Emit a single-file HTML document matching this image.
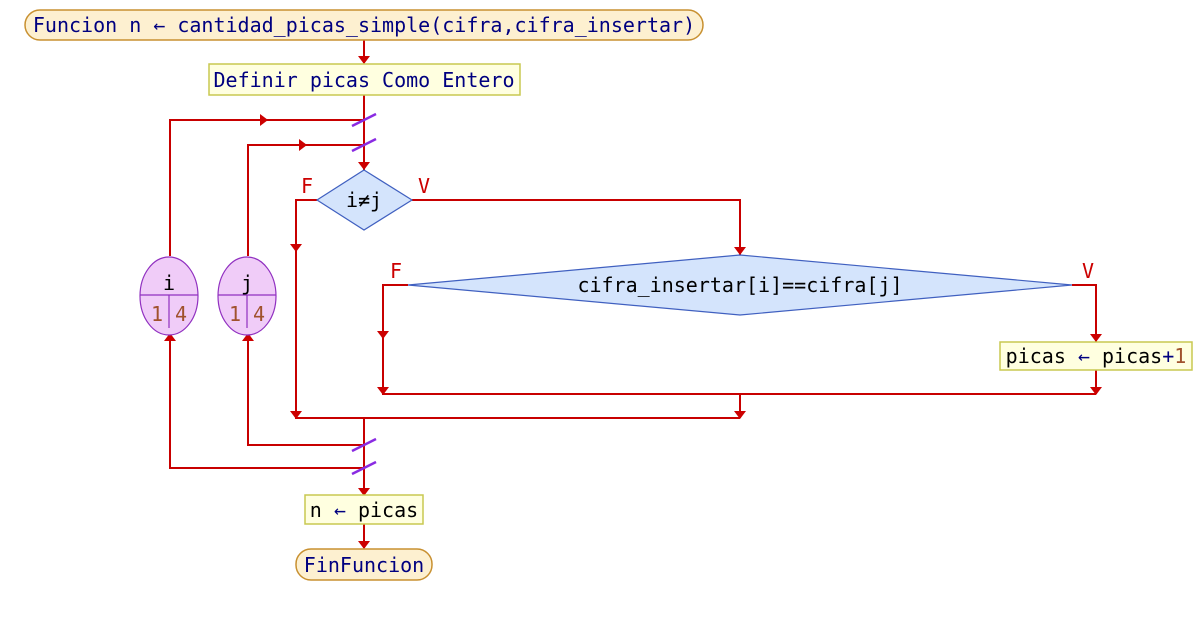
<!DOCTYPE html>
<html><head><meta charset="utf-8"><style>
html,body{margin:0;padding:0;background:#fff;}
text{font-family:"DejaVu Sans Mono","Liberation Mono",monospace;font-size:20px;}
</style></head><body>
<svg width="1202" height="615" viewBox="0 0 1202 615" xmlns="http://www.w3.org/2000/svg">
<g stroke="#c80000" stroke-width="2" fill="none">
<line x1="364" y1="40" x2="364" y2="63"/>
<line x1="364" y1="95" x2="364" y2="170"/>
<polyline points="170,256 170,120 364,120"/>
<polyline points="248,256 248,145 364,145"/>
<polyline points="317,200 296,200 296,418 740,418"/>
<polyline points="412,200 740,200 740,255"/>
<polyline points="408,285 383,285 383,394 1096,394"/>
<polyline points="1072,285 1096,285 1096,342"/>
<line x1="1096" y1="370" x2="1096" y2="394"/>
<line x1="740" y1="394" x2="740" y2="418"/>
<line x1="364" y1="418" x2="364" y2="495"/>
<polyline points="364,445 248,445 248,336"/>
<polyline points="364,468 170,468 170,336"/>
<line x1="364" y1="524" x2="364" y2="548"/>
</g>
<g fill="#c00">
<path d="M358,56 L370,56 L364,64 Z"/>
<path d="M358,162 L370,162 L364,170 Z"/>
<path d="M734,247 L746,247 L740,255 Z"/>
<path d="M1090,334 L1102,334 L1096,342 Z"/>
<path d="M1090,387 L1102,387 L1096,395 Z"/>
<path d="M290,244 L302,244 L296,252 Z"/>
<path d="M290,411 L302,411 L296,419 Z"/>
<path d="M377,331 L389,331 L383,339 Z"/>
<path d="M377,387 L389,387 L383,395 Z"/>
<path d="M734,411 L746,411 L740,419 Z"/>
<path d="M358,488 L370,488 L364,496 Z"/>
<path d="M358,541 L370,541 L364,549 Z"/>
<path d="M260,114 L268,120 L260,126 Z"/>
<path d="M299,139 L307,145 L299,151 Z"/>
<path d="M164,341 L176,341 L170,333 Z"/>
<path d="M242,341 L254,341 L248,333 Z"/>
</g>
<g stroke="#8a2be2" stroke-width="2.5">
<line x1="352" y1="126" x2="376" y2="114"/>
<line x1="352" y1="151" x2="376" y2="139"/>
<line x1="352" y1="451" x2="376" y2="439"/>
<line x1="352" y1="474" x2="376" y2="462"/>
</g>
<rect x="25" y="10" width="678" height="30" rx="15" fill="#fdf0d0" stroke="#c89030" stroke-width="1.5"/>
<text x="364" y="32" text-anchor="middle" fill="#000080">Funcion n ← cantidad_picas_simple(cifra,cifra_insertar)</text>
<rect x="209" y="64" width="311" height="31" fill="#ffffe0" stroke="#c8c850" stroke-width="1.5"/>
<text x="364" y="87" text-anchor="middle" fill="#000080">Definir picas Como Entero</text>
<polygon points="364,170 412,200 364,230 317,200" fill="#d4e4fc" stroke="#4060c0" stroke-width="1.2"/>
<text x="364" y="207" text-anchor="middle" fill="#000">i≠j</text>
<polygon points="740,255 1072,285 740,315 408,285" fill="#d4e4fc" stroke="#4060c0" stroke-width="1.2"/>
<text x="740" y="292" text-anchor="middle" fill="#000">cifra_insertar[i]==cifra[j]</text>
<g fill="#c00" style="font-size:11px">
<text x="301" y="193">F</text><text x="418" y="193">V</text>
<text x="390" y="278">F</text><text x="1082" y="278">V</text>
</g>
<rect x="1000" y="342" width="192" height="28" fill="#ffffe0" stroke="#c8c850" stroke-width="1.5"/>
<text x="1096" y="363" text-anchor="middle" fill="#000">picas <tspan fill="#000080">←</tspan> picas<tspan fill="#000080">+</tspan><tspan fill="#a0522d">1</tspan></text>
<g stroke="#9030c0" stroke-width="1.2">
<ellipse cx="169" cy="296" rx="29" ry="39" fill="#f0ccf8"/>
<ellipse cx="247" cy="296" rx="29" ry="39" fill="#f0ccf8"/>
<line x1="140" y1="295" x2="198" y2="295"/><line x1="169" y1="295" x2="169" y2="328"/>
<line x1="218" y1="295" x2="276" y2="295"/><line x1="247" y1="295" x2="247" y2="328"/>
</g>
<text x="169" y="290" text-anchor="middle" fill="#000">i</text>
<text x="247" y="290" text-anchor="middle" fill="#000">j</text>
<g fill="#a0522d"><text x="157" y="321" text-anchor="middle">1</text><text x="181" y="321" text-anchor="middle">4</text>
<text x="235" y="321" text-anchor="middle">1</text><text x="259" y="321" text-anchor="middle">4</text></g>
<rect x="305" y="495" width="118" height="29" fill="#ffffe0" stroke="#c8c850" stroke-width="1.5"/>
<text x="364" y="517" text-anchor="middle" fill="#000">n <tspan fill="#000080">←</tspan> picas</text>
<rect x="296" y="549" width="136" height="31" rx="15" fill="#fdf0d0" stroke="#c89030" stroke-width="1.5"/>
<text x="364" y="572" text-anchor="middle" fill="#000080">FinFuncion</text>
</svg>
</body></html>
